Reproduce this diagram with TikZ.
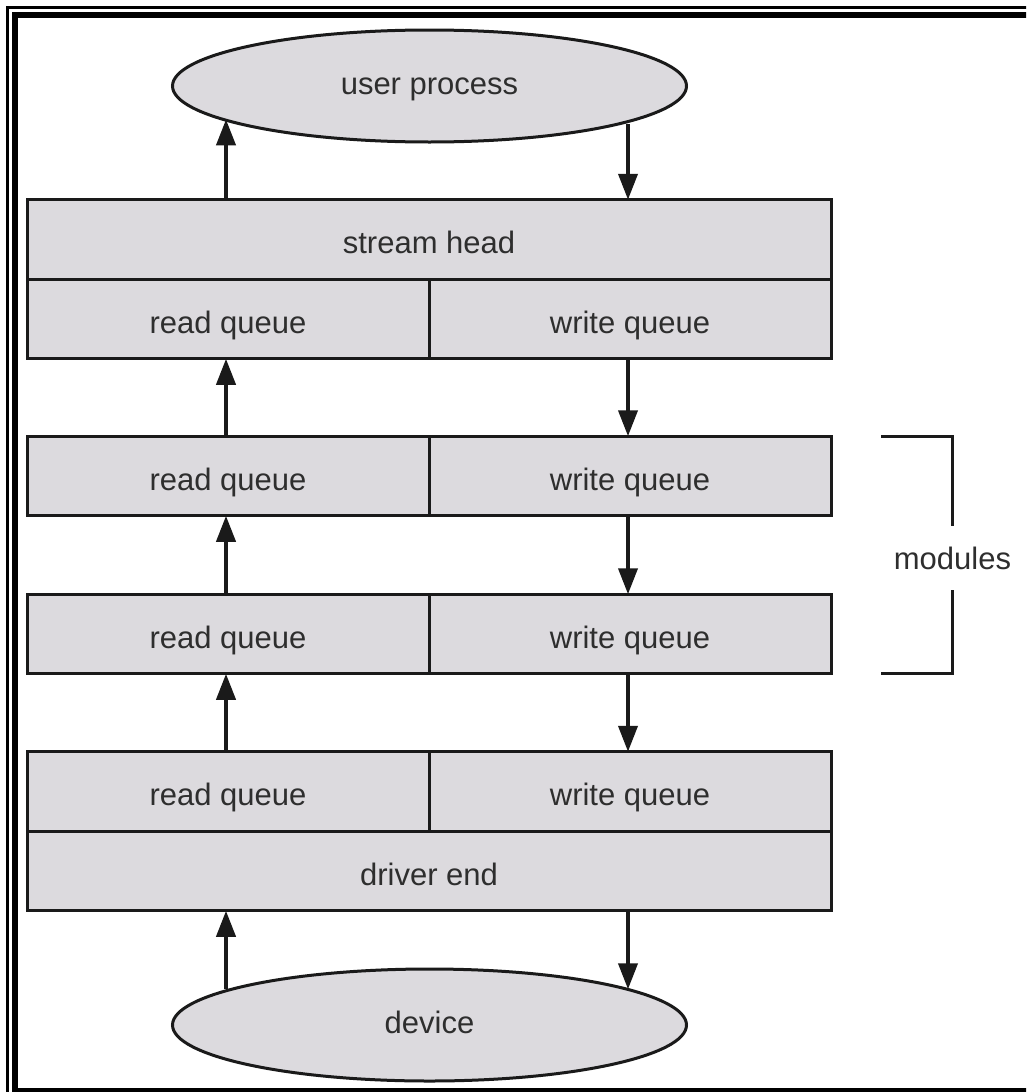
\documentclass[tikz,border=0pt]{standalone}
\usepackage{fontspec}
\setmainfont{Liberation Sans}
\usetikzlibrary{shapes.geometric,arrows.meta}
\definecolor{boxfill}{HTML}{DCDADE}
\definecolor{ink}{HTML}{1A1A1A}
\definecolor{txt}{HTML}{2E2E2E}

\begin{document}
\begin{tikzpicture}[x=1pt,y=-1pt,
  label text/.style={text=txt, font=\fontsize{31}{36}\selectfont},
  halfbox/.style={label text, draw=ink, line width=3pt, fill=boxfill,
    inner sep=0pt, outer sep=0pt, minimum width=402pt, minimum height=79.5pt,
    text height=28pt, text depth=0pt},
  fullbox/.style={halfbox, minimum width=804pt},
  endpoint/.style={label text, ellipse, draw=ink, line width=3pt, fill=boxfill,
    inner sep=0pt, minimum width=514pt, minimum height=112pt,
    text height=22pt, text depth=6pt},
  flow/.style={draw=ink, line width=4pt, -{Triangle[length=26pt,width=19pt]}},
  bracket/.style={draw=ink, line width=3pt}
]
% page frame
\useasboundingbox (0,0) rectangle (1026,1092);
\clip (0,0) rectangle (1026,1092);
\fill[white] (0,0) rectangle (1026,1092);
\draw[black, line width=3pt] (7.5,7.5) rectangle (1120,1120);
\draw[black, line width=5.5pt] (14.75,14.75) rectangle (1120,1090.5);

% columns of the read and write paths
\coordinate (xL) at (226,0);
\coordinate (xR) at (628,0);
\coordinate (bL) at (881,0);

% user side
\node[endpoint] (up) at (429.5,86) {user process};
\node[fullbox] (sh) at (429,239.5) {stream head};
\node[halfbox] (rq0) at (228,319) {read queue};
\node[halfbox] (wq0) at (630,319) {write queue};

% modules
\node[halfbox] (rq1) at (228,476) {read queue};
\node[halfbox] (wq1) at (630,476) {write queue};
\node[halfbox] (rq2) at (228,634) {read queue};
\node[halfbox] (wq2) at (630,634) {write queue};

% driver side
\node[halfbox] (rq3) at (228,791.5) {read queue};
\node[halfbox] (wq3) at (630,791.5) {write queue};
\node[fullbox] (de) at (429,871) {driver end};
\node[endpoint] (dev) at (429.5,1025) {device};

% read path (upwards)
\draw[flow] (sh.north -| xL) -- (up.189.5 -| xL);
\draw[flow] (rq1.north -| xL) -- (rq0.south -| xL);
\draw[flow] (rq2.north -| xL) -- (rq1.south -| xL);
\draw[flow] (rq3.north -| xL) -- (rq2.south -| xL);
\draw[flow] (dev.170.5 -| xL) -- (de.south -| xL);

% write path (downwards)
\draw[flow] (up.349.9 -| xR) -- (sh.north -| xR);
\draw[flow] (wq0.south -| xR) -- (wq1.north -| xR);
\draw[flow] (wq1.south -| xR) -- (wq2.north -| xR);
\draw[flow] (wq2.south -| xR) -- (wq3.north -| xR);
\draw[flow] (de.south -| xR) -- (dev.10.1 -| xR);

% modules bracket
\node[label text, inner sep=0pt, minimum height=64pt] (mod) at (952.5,558) {modules};
\draw[bracket] (wq1.north -| bL) -| (mod.north);
\draw[bracket] (wq2.south -| bL) -| (mod.south);
\end{tikzpicture}
\end{document}
